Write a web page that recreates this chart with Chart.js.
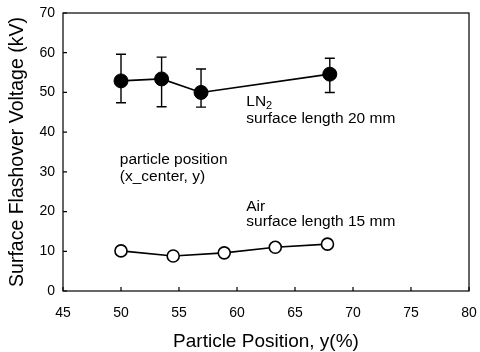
<!DOCTYPE html>
<html>
<head>
<meta charset="utf-8">
<script src="https://cdn.jsdelivr.net/npm/chart.js@4"></script>
<style>
  html, body { margin: 0; padding: 0; background: #fff; }
  #wrap { width: 480px; height: 352px; }
</style>
</head>
<body>
<div id="wrap"><canvas id="flashoverChart" width="480" height="352"></canvas></div>
<script>
// LN2, surface length 20 mm
const positionsLN2 = [50, 53.5, 56.9, 68];
const voltageLN2 = [52.9, 53.4, 50.0, 54.6];
const errHighLN2 = [59.6, 58.9, 55.9, 58.6];
const errLowLN2 = [47.4, 46.4, 46.3, 50.0];

// Air, surface length 15 mm
const positionsAir = [50, 54.5, 58.9, 63.3, 67.8];
const voltageAir = [10.1, 8.8, 9.6, 11.0, 11.8];

const xTicks = [45, 50, 55, 60, 65, 70, 75, 80];
const yTicks = [0, 10, 20, 30, 40, 50, 60, 70];

const FONT = '"Liberation Sans", Arial, sans-serif';

// text notes inside the plot, placed in data units
const notes = [
  { text: 'LN', sub: '2', x: 60.8, y: 47.6 },
  { text: 'surface length 20 mm', x: 60.8, y: 43.3 },
  { text: 'particle position', x: 49.9, y: 33.0 },
  { text: '(x_center, y)', x: 49.9, y: 28.7 },
  { text: 'Air', x: 60.8, y: 21.2 },
  { text: 'surface length 15 mm', x: 60.8, y: 17.4 }
];

const frame = {
  id: 'frame',
  beforeDatasetsDraw(chart) {
    const { ctx, scales: { x, y } } = chart;
    ctx.save();
    ctx.strokeStyle = '#000';
    ctx.lineWidth = 1.4;
    // error bars for LN2
    positionsLN2.forEach((p, i) => {
      const px = x.getPixelForValue(p);
      const top = y.getPixelForValue(errHighLN2[i]);
      const bot = y.getPixelForValue(errLowLN2[i]);
      ctx.beginPath();
      ctx.moveTo(px, top); ctx.lineTo(px, bot);
      ctx.moveTo(px - 5, top); ctx.lineTo(px + 5, top);
      ctx.moveTo(px - 5, bot); ctx.lineTo(px + 5, bot);
      ctx.stroke();
    });
    ctx.restore();
  },
  afterDraw(chart) {
    const { ctx, chartArea: a, scales: { x, y } } = chart;
    ctx.save();
    ctx.strokeStyle = '#000';
    ctx.lineWidth = 1.2;
    ctx.strokeRect(a.left, a.top, a.right - a.left, a.bottom - a.top);
    // inward ticks
    ctx.beginPath();
    xTicks.forEach(v => {
      const px = x.getPixelForValue(v);
      ctx.moveTo(px, a.bottom); ctx.lineTo(px, a.bottom - 4);
    });
    yTicks.forEach(v => {
      const py = y.getPixelForValue(v);
      ctx.moveTo(a.left, py); ctx.lineTo(a.left + 4, py);
    });
    ctx.stroke();
    // notes
    ctx.fillStyle = '#000';
    ctx.textBaseline = 'middle';
    ctx.textAlign = 'left';
    notes.forEach(n => {
      const px = x.getPixelForValue(n.x);
      const py = y.getPixelForValue(n.y);
      ctx.font = '15.5px ' + FONT;
      ctx.fillText(n.text, px, py);
      if (n.sub) {
        const w = ctx.measureText(n.text).width;
        ctx.font = '11px ' + FONT;
        ctx.fillText(n.sub, px + w, py + 4);
      }
    });
    ctx.restore();
  }
};

new Chart(document.getElementById('flashoverChart'), {
  type: 'scatter',
  data: {
    datasets: [
      {
        label: 'LN2',
        data: positionsLN2.map((p, i) => ({ x: p, y: voltageLN2[i] })),
        showLine: true,
        borderColor: '#000',
        borderWidth: 1.6,
        backgroundColor: '#000',
        pointBackgroundColor: '#000',
        pointBorderColor: '#000',
        pointRadius: 7,
        pointBorderWidth: 1
      },
      {
        label: 'Air',
        data: positionsAir.map((p, i) => ({ x: p, y: voltageAir[i] })),
        showLine: true,
        borderColor: '#000',
        borderWidth: 1.6,
        pointBackgroundColor: '#fff',
        pointBorderColor: '#000',
        pointRadius: 6,
        pointBorderWidth: 1.6
      }
    ]
  },
  options: {
    responsive: false,
    animation: false,
    events: [],
    layout: { padding: { top: 13, right: 11, left: 0, bottom: 0 } },
    plugins: { legend: { display: false }, tooltip: { enabled: false } },
    scales: {
      x: {
        type: 'linear',
        min: 45, max: 80,
        afterBuildTicks: s => { s.ticks = xTicks.map(v => ({ value: v })); },
        afterFit: s => { s.height = 61; s.paddingLeft = 0; s.paddingRight = 0; },
        grid: { display: false, drawTicks: false },
        border: { display: false },
        ticks: { color: '#000', font: { family: FONT, size: 14 }, padding: 14 },
        title: { display: true, text: 'Particle Position, y(%)', color: '#000',
                 font: { family: FONT, size: 19 }, padding: { top: 8, bottom: -1 } }
      },
      y: {
        type: 'linear',
        min: 0, max: 70,
        afterBuildTicks: s => { s.ticks = yTicks.map(v => ({ value: v })); },
        afterFit: s => { s.width = 63; s.paddingTop = 0; s.paddingBottom = 0; },
        grid: { display: false, drawTicks: false },
        border: { display: false },
        ticks: { color: '#000', font: { family: FONT, size: 14 }, padding: 8 },
        title: { display: true, text: 'Surface Flashover Voltage (kV)', color: '#000',
                 font: { family: FONT, size: 19.5 }, padding: { top: 6, bottom: 0 } }
      }
    }
  },
  plugins: [frame]
});
</script>
</body>
</html>
